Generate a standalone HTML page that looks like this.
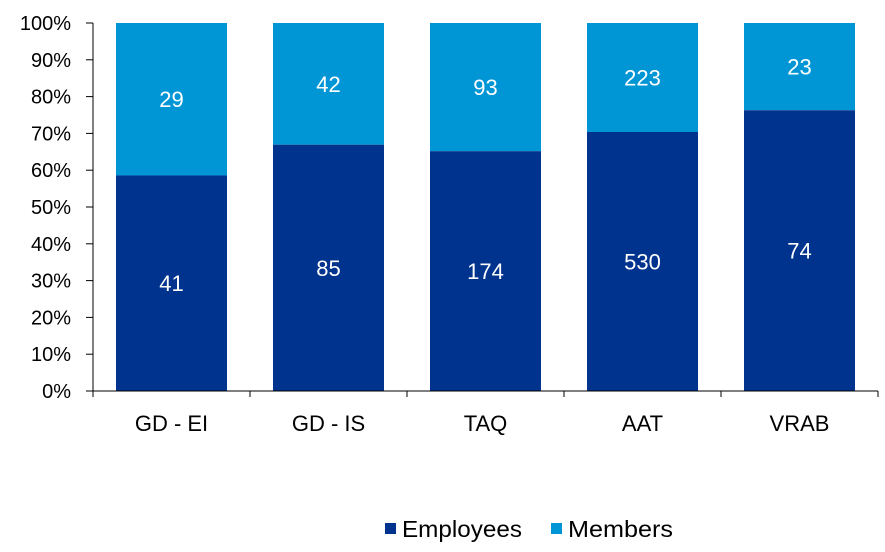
<!DOCTYPE html>
<html><head><meta charset="utf-8"><style>
body{margin:0;background:#fff;font-family:"Liberation Sans",sans-serif}
</style></head><body>
<svg width="885" height="547" font-family="Liberation Sans, sans-serif">
<g id="plot"></g>
</svg>
<script>
const categories=["GD - EI","GD - IS","TAQ","AAT","VRAB"];
const employees=[41,85,174,530,74];
const members=[29,42,93,223,23];
const yTicks=[0,10,20,30,40,50,60,70,80,90,100];
const X0=93,BW=157,Y0=391,H=368,BAR=111;
const ns="http://www.w3.org/2000/svg";
const g=document.getElementById('plot');
function y(p){return Y0-p/100*H;}
function mk(t,a,txt){const e=document.createElementNS(ns,t);for(const k in a)e.setAttribute(k,a[k]);if(txt!==undefined)e.textContent=txt;g.appendChild(e);return e;}
categories.forEach((c,i)=>{
  const tot=employees[i]+members[i];
  const pe=employees[i]/tot*100;
  const x=X0+i*BW+(BW-BAR)/2;
  let r=mk('rect',{x:x,y:y(100),width:BAR,height:y(pe)-y(100),fill:'#0096d6'});
  
  
  r=mk('rect',{x:x,y:y(pe),width:BAR,height:Y0-y(pe),fill:'#00338d'});
  
  
  let t=mk('text',{x:x+BAR/2,y:(y(pe)+Y0)/2+8,'text-anchor':'middle','font-size':22,fill:'#fff'},employees[i]);
  
  
  t=mk('text',{x:x+BAR/2,y:(y(pe)+y(100))/2+8,'text-anchor':'middle','font-size':22,fill:'#fff'},members[i]);
  
  
  t=mk('text',{x:X0+i*BW+BW/2,y:431,'text-anchor':'middle','font-size':22,fill:'#000'},c);
  
  
});
for(let i=0;i<=categories.length;i++){
  const l=mk('line',{x1:X0+i*BW,x2:X0+i*BW,y1:Y0,y2:Y0+6,stroke:'#000','stroke-width':1});
  
  
}
yTicks.forEach(v=>{
  const l=mk('line',{x1:X0-7,x2:X0,y1:y(v),y2:y(v),stroke:'#000','stroke-width':1});
  
  
  const t=mk('text',{x:X0-22,y:y(v)+7,'text-anchor':'end','font-size':20,fill:'#000'},v+'%');
  
  
});
let a=mk('line',{x1:X0,x2:X0,y1:y(100),y2:Y0,stroke:'#000','stroke-width':1});


a=mk('line',{x1:X0,x2:X0+5*BW,y1:Y0,y2:Y0,stroke:'#000','stroke-width':1});


[['Employees','#00338d',385,120],['Members','#0096d6',551,105]].forEach(([n,c,x,w])=>{
  const r=mk('rect',{x:x,y:523,width:11,height:11,fill:c});
  
  
  const t=mk('text',{x:x+17,y:537,'font-size':23,fill:'#000',textLength:w,lengthAdjust:'spacingAndGlyphs'},n);
  
  
});
</script>
</body></html>
